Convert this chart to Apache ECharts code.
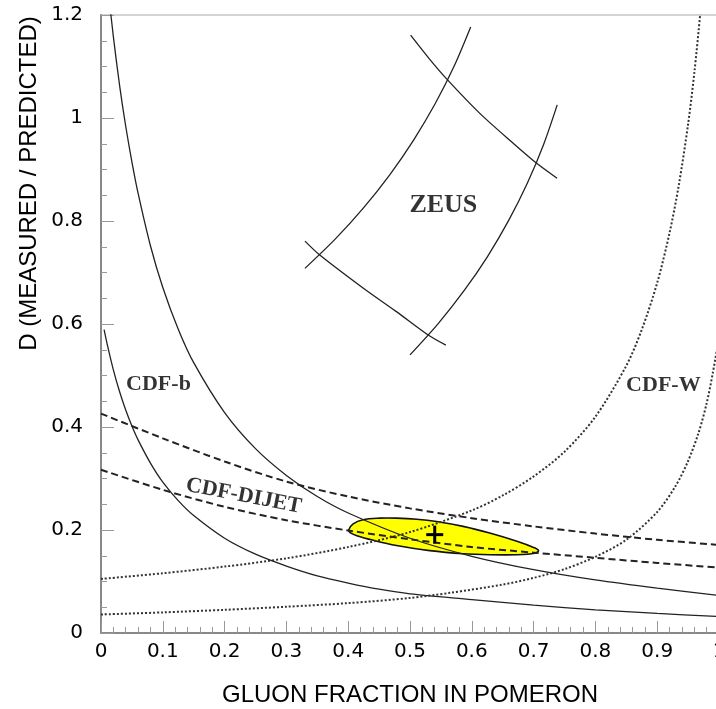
<!DOCTYPE html>
<html>
<head>
<meta charset="utf-8">
<script src="https://cdn.jsdelivr.net/npm/echarts@6/dist/echarts.min.js"></script>
<style>
html,body{margin:0;padding:0;background:#fff;}
#chart{width:716px;height:709px;}
</style>
</head>
<body>
<div id="chart"></div>
<script>
// ---- data (gluon fraction, D) ----
const xTicks = [0, 0.1, 0.2, 0.3, 0.4, 0.5, 0.6, 0.7, 0.8, 0.9, 1];
const yTicks = [0, 0.2, 0.4, 0.6, 0.8, 1, 1.2];

const cdfbUpper = [[0.012,1.245],[0.02,1.158],[0.03,1.064],[0.04,0.984],[0.05,0.915],[0.06,0.854],[0.08,0.752],[0.1,0.671],[0.125,0.590],[0.15,0.525],[0.2,0.428],[0.25,0.358],[0.3,0.306],[0.35,0.265],[0.4,0.233],[0.5,0.184],[0.6,0.149],[0.7,0.123],[0.8,0.103],[0.9,0.087],[1.0,0.073]];
const cdfbLower = [[0.005,0.589],[0.01,0.561],[0.02,0.511],[0.03,0.469],[0.04,0.433],[0.05,0.402],[0.06,0.375],[0.08,0.330],[0.1,0.293],[0.125,0.257],[0.15,0.228],[0.2,0.184],[0.25,0.153],[0.3,0.130],[0.35,0.111],[0.4,0.097],[0.45,0.085],[0.5,0.076],[0.6,0.065],[0.7,0.054],[0.8,0.045],[0.9,0.038],[1.0,0.032]];
const dijetUpper = [[0,0.426],[0.1,0.378],[0.2,0.333],[0.3,0.294],[0.4,0.265],[0.5,0.242],[0.6,0.223],[0.7,0.207],[0.8,0.193],[0.9,0.181],[1.0,0.171]];
const dijetLower = [[0,0.317],[0.1,0.278],[0.2,0.245],[0.3,0.219],[0.4,0.199],[0.5,0.182],[0.6,0.167],[0.7,0.156],[0.8,0.146],[0.9,0.136],[1.0,0.127]];
const wOuter = [[0,0.105],[0.1,0.116],[0.2,0.129],[0.3,0.145],[0.4,0.167],[0.5,0.196],[0.6,0.238],[0.65,0.267],[0.7,0.304],[0.75,0.352],[0.8,0.420],[0.85,0.519],[0.875,0.589],[0.9,0.680],[0.92,0.777],[0.935,0.870],[0.95,0.988],[0.96,1.087],[0.97,1.207],[0.975,1.278]];
const wInner = [[0,0.036],[0.1,0.040],[0.2,0.045],[0.3,0.051],[0.4,0.058],[0.5,0.068],[0.565,0.078],[0.65,0.094],[0.7,0.107],[0.75,0.124],[0.8,0.148],[0.85,0.181],[0.9,0.235],[0.93,0.286],[0.95,0.334],[0.967,0.389],[0.98,0.446],[0.99,0.505],[1.0,0.574]];
const zeusLeft = [[0.330,0.708],[0.3793,0.7652],[0.4251,0.8259],[0.4675,0.8902],[0.5061,0.9577],[0.5409,1.0281],[0.5717,1.1013],[0.5982,1.1766]];
const zeusRight = [[0.5,0.540],[0.5453,0.6003],[0.5872,0.6641],[0.6254,0.7310],[0.6597,0.8011],[0.6900,0.8737],[0.7162,0.9486],[0.7382,1.0254]];
const zeusTop = [[0.501,1.161],[0.532,1.114],[0.560,1.075],[0.613,1.009],[0.667,0.951],[0.705,0.912],[0.738,0.883]];
const zeusBottom = [[0.330,0.761],[0.354,0.734],[0.424,0.670],[0.478,0.624],[0.530,0.578],[0.558,0.559]];
const ellipseX = [0.401,0.408,0.424,0.451,0.478,0.511,0.543,0.586,0.629,0.673,0.700,0.708,0.702,0.673,0.629,0.586,0.532,0.478,0.441,0.414,0.403];
const ellipseY = [0.2005,0.212,0.220,0.223,0.223,0.221,0.2166,0.207,0.194,0.178,0.166,0.160,0.155,0.152,0.152,0.154,0.160,0.170,0.180,0.189,0.195];
const bestFit = [[0.540,0.191]];
const labelTexts = ['CDF-b','CDF-W','CDF-DIJET','ZEUS'];
const labelX = [0.093,0.910,0.231,0.554];
const labelY = [0.483,0.480,0.266,0.831];
const labelRotate = [0,0,-11,0];
const labelSize = [22,22,22,26];

// ---- chart ----
const chart = echarts.init(document.getElementById('chart'), null, {renderer:'canvas'});
const solid = {color:'#222', width:1.3, type:'solid'};
const dashed = {color:'#222', width:2, type:[7,4]};
const dotted = {color:'#333', width:2, type:[2,2]};
function lineSeries(data, ls){
  return {type:'line', data:data, showSymbol:false, symbol:'none', smooth:0.3, lineStyle:ls, z:3, silent:true, clip:true};
}
const labelData = labelTexts.map((t,i)=>({value:[labelX[i],labelY[i]], name:t,
  label:{show:true, formatter:t, position:'inside', rotate:labelRotate[i], fontFamily:'Liberation Serif', fontWeight:'bold', fontSize:labelSize[i], color:'#000'}}));

const option = {
  animation:false,
  backgroundColor:'#fff',
  grid:{left:101, top:15, width:618, height:618, outerBoundsMode:'none', containLabel:false, show:true, borderColor:'#aaa', borderWidth:1, backgroundColor:'transparent'},
  xAxis:{type:'value', min:0, max:1, interval:0.1,
    axisLine:{show:true, onZero:false, lineStyle:{color:'#888', width:2}},
    axisTick:{show:true, inside:true, length:12, lineStyle:{color:'#999', width:1}},
    minorTick:{show:true, splitNumber:5, length:6, lineStyle:{color:'#999', width:1}},
    splitLine:{show:false}, minorSplitLine:{show:false},
    axisLabel:{fontFamily:'DejaVu Sans', fontSize:20, color:'#000', margin:9, formatter:(v)=>String(+v.toFixed(1))},
    name:'GLUON FRACTION IN POMERON', nameLocation:'middle', nameGap:50,
    nameTextStyle:{fontFamily:'Liberation Sans', fontSize:24, color:'#000'}},
  yAxis:{type:'value', min:0, max:1.2, interval:0.2,
    axisLine:{show:true, onZero:false, lineStyle:{color:'#888', width:2}},
    axisTick:{show:true, inside:true, length:13, lineStyle:{color:'#999', width:1}},
    minorTick:{show:true, splitNumber:4, length:6, lineStyle:{color:'#999', width:1}},
    splitLine:{show:false}, minorSplitLine:{show:false},
    axisLabel:{fontFamily:'DejaVu Sans', fontSize:20, color:'#000', margin:18, formatter:(v)=>String(+v.toFixed(1))}},
  graphic:[{type:'text', x:29.5, y:183.5, rotation:Math.PI/2,
    style:{text:'D (MEASURED / PREDICTED)', fontFamily:'Liberation Sans', fontSize:24, fill:'#000', align:'center', verticalAlign:'middle'}}],
  series:[
    {type:'custom', z:1, silent:true, clip:true, data:[[0,0]],
      renderItem:function(params, api){
        const pts = ellipseX.map((x,i)=>api.coord([x, ellipseY[i]]));
        return {type:'polygon', shape:{points:pts, smooth:0.35},
          style:{fill:'#ffff00', stroke:'#111', lineWidth:1.6}};
      }},
    lineSeries(cdfbUpper, solid),
    lineSeries(cdfbLower, solid),
    lineSeries(dijetUpper, dashed),
    lineSeries(dijetLower, dashed),
    lineSeries(wOuter, dotted),
    lineSeries(wInner, dotted),
    lineSeries(zeusLeft, solid),
    lineSeries(zeusRight, solid),
    lineSeries(zeusTop, solid),
    lineSeries(zeusBottom, solid),
    {type:'custom', z:5, silent:true, data:bestFit,
      renderItem:function(params, api){
        const p = api.coord([api.value(0), api.value(1)]);
        return {type:'group', children:[
          {type:'line', shape:{x1:p[0]-8.5, y1:p[1], x2:p[0]+8.5, y2:p[1]}, style:{stroke:'#000', lineWidth:3}},
          {type:'line', shape:{x1:p[0], y1:p[1]-9, x2:p[0], y2:p[1]+9}, style:{stroke:'#000', lineWidth:3}}
        ]};
      }},
    {type:'scatter', z:6, silent:true, symbolSize:0, data:labelData}
  ]
};
chart.setOption(option);
</script>
</body>
</html>
